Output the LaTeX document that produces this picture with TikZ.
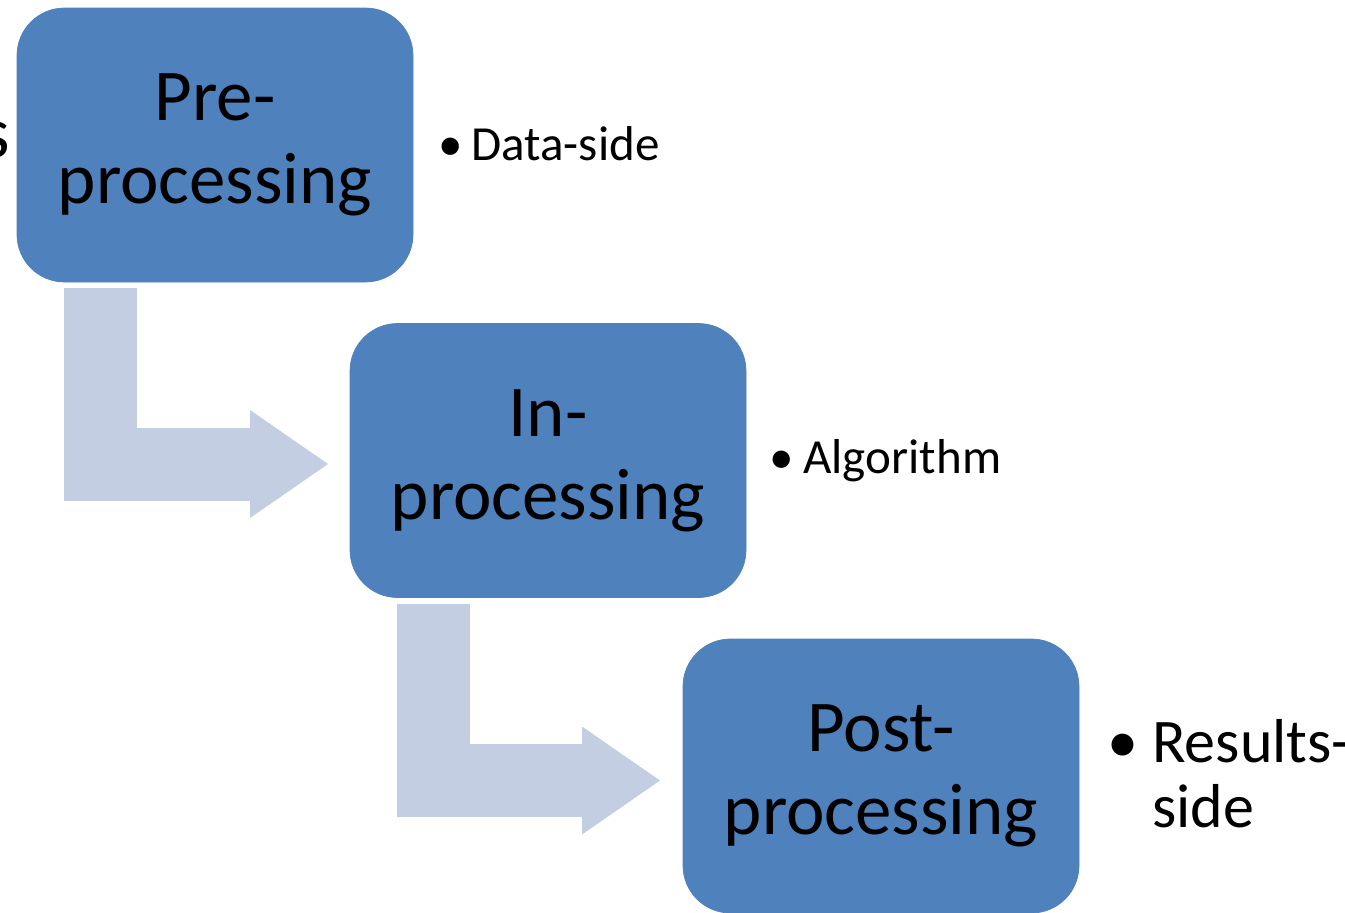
\documentclass[tikz,border=0pt]{standalone}
\usepackage{fontspec}
\setmainfont{Carlito}
\usetikzlibrary{arrows.meta}
\definecolor{boxblue}{HTML}{4F81BD}
\definecolor{flowblue}{HTML}{C3CEE2}

\tikzstyle{stage}=[rectangle,rounded corners=0.95cm,fill=boxblue,draw=boxblue,align=center,inner sep=0pt,outer sep=0pt,minimum width=7.92cm,minimum height=5.48cm,execute at begin node={\rule{0pt}{40pt}},font=\fontsize{41.5}{47.2}\selectfont]
\tikzstyle{flow}=[draw=flowblue,line width=1.46cm,-{Triangle[width=2.16cm,length=1.56cm,line width=0pt]}]
\tikzstyle{note}=[anchor=base west,inner sep=0pt,font=\fontsize{27.9}{32}\selectfont]

\begin{document}
\begin{tikzpicture}
	\useasboundingbox (0,0) rectangle (26.9,-18.24);

	% Stages
	\node[stage] (pre) at (4.3,-2.9) {Pre-\\processing};
	\node[stage] (in) at (10.96,-9.21) {In-\\processing};
	\node[stage] (post) at (17.62,-15.52) {Post-\\processing};

	% cut off at the left edge
	\node[anchor=base east,inner sep=0pt,font=\fontsize{41.5}{47.2}\selectfont] (cut) at (0.2,-3.14) {s};

	% Flow
	\draw[flow] ([xshift=1.66cm,yshift=-0.12cm]pre.south west) |- ([xshift=-0.44cm,yshift=-0.07cm]in.west);
	\draw[flow] ([xshift=1.67cm,yshift=-0.12cm]in.south west) |- ([xshift=-0.46cm,yshift=-0.09cm]post.west);

	% Notes
	\node[note] (predata) at (8.76,-3.2) {\makebox[0.66cm][l]{•}Data-side};
	\node[note] (inalgo) at (15.38,-9.46) {\makebox[0.68cm][l]{•}Algorithm};
	\node[note,font=\fontsize{35.3}{37}\selectfont] (postres) at (22.14,-15.24) {\makebox[0.9cm][l]{•}\parbox[t]{5cm}{Results-\\side}};
\end{tikzpicture}
\end{document}
